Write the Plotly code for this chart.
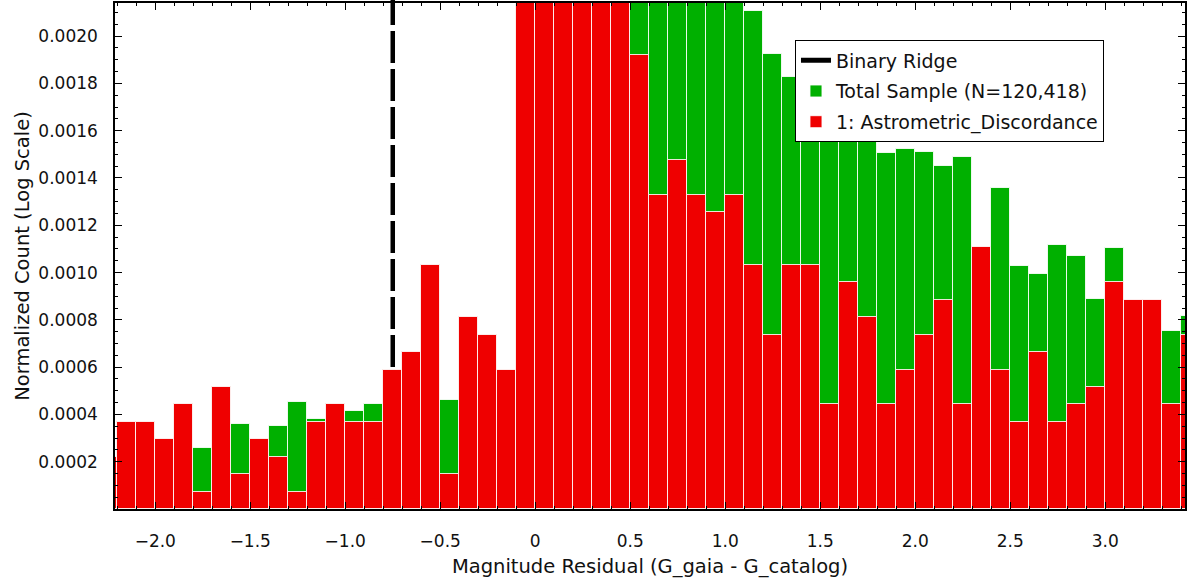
import plotly.graph_objects as go

# Histogram bins (left edges, width 0.1 mag)
BIN_LEFT = [
    -2.3, -2.2, -2.1, -2.0, -1.9, -1.8, -1.7, -1.6, -1.5, -1.4,
    -1.3, -1.2, -1.1, -1.0, -0.9, -0.8, -0.7, -0.6, -0.5, -0.4,
    -0.3, -0.2, -0.1, 0.0, 0.1, 0.2, 0.3, 0.4, 0.5, 0.6,
    0.7, 0.8, 0.9, 1.0, 1.1, 1.2, 1.3, 1.4, 1.5, 1.6,
    1.7, 1.8, 1.9, 2.0, 2.1, 2.2, 2.3, 2.4, 2.5, 2.6,
    2.7, 2.8, 2.9, 3.0, 3.1, 3.2, 3.3, 3.4,
]
BIN_WIDTH = 0.1

# Normalized counts per bin
TOTAL_SAMPLE = [
    0.000221, 0.000369, 0.000369, 0.000295, 0.000443, 0.000260, 0.000517, 0.000360, 0.000295, 0.000349,
    0.000452, 0.000381, 0.000443, 0.000416, 0.000442, 0.000590, 0.000664, 0.001033, 0.000463, 0.000812,
    0.000738, 0.000590, 0.002400, 0.003100, 0.003500, 0.003400, 0.003100, 0.002700, 0.002500, 0.002400,
    0.002300, 0.002250, 0.002200, 0.002170, 0.002105, 0.001923, 0.001829, 0.001760, 0.001700, 0.001660,
    0.001610, 0.001505, 0.001522, 0.001508, 0.001450, 0.001487, 0.001050, 0.001356, 0.001029, 0.000993,
    0.001116, 0.001071, 0.000889, 0.001102, 0.000850, 0.000820, 0.000753, 0.000816,
]
ASTROMETRIC = [
    0.000221, 0.000369, 0.000369, 0.000295, 0.000443, 0.000074, 0.000517, 0.000148, 0.000295, 0.000221,
    0.000074, 0.000369, 0.000443, 0.000369, 0.000369, 0.000590, 0.000664, 0.001033, 0.000148, 0.000812,
    0.000738, 0.000590, 0.003100, 0.004900, 0.006200, 0.005800, 0.004600, 0.003300, 0.001919, 0.001328,
    0.001476, 0.001328, 0.001255, 0.001328, 0.001033, 0.000738, 0.001033, 0.001033, 0.000443, 0.000959,
    0.000812, 0.000443, 0.000590, 0.000738, 0.000886, 0.000443, 0.001107, 0.000590, 0.000369, 0.000664,
    0.000369, 0.000443, 0.000517, 0.000959, 0.000886, 0.000886, 0.000443, 0.000738,
]

RIDGE_X = -0.75

X_TICKS = [-2.0, -1.5, -1.0, -0.5, 0.0, 0.5, 1.0, 1.5, 2.0, 2.5, 3.0]
X_TICK_TEXT = ["\u22122.0", "\u22121.5", "\u22121.0", "\u22120.5", "0", "0.5", "1.0", "1.5", "2.0", "2.5", "3.0"]
Y_TICKS = [0.0002, 0.0004, 0.0006, 0.0008, 0.0010, 0.0012, 0.0014, 0.0016, 0.0018, 0.0020]
Y_TICK_TEXT = ["0.0002", "0.0004", "0.0006", "0.0008", "0.0010", "0.0012", "0.0014", "0.0016", "0.0018", "0.0020"]

GREEN = "#00B000"
RED = "#EF0000"
FONT = "DejaVu Sans"
TEXT = "#111"
EDGE = dict(color="rgba(255,255,255,0.85)", width=1)

centers = [round(e + BIN_WIDTH / 2, 3) for e in BIN_LEFT]

fig = go.Figure()
fig.add_trace(go.Bar(
    x=centers, y=TOTAL_SAMPLE, width=BIN_WIDTH,
    name="Total Sample (N=120,418)",
    marker=dict(color=GREEN, line=EDGE),
    legendrank=2, legendgroup="b",
))
fig.add_trace(go.Bar(
    x=centers, y=ASTROMETRIC, width=BIN_WIDTH,
    name="1: Astrometric_Discordance",
    marker=dict(color=RED, line=EDGE),
    legendrank=3, legendgroup="c",
))
# legend entry for the ridge marker
fig.add_trace(go.Scatter(
    x=[None], y=[None], mode="lines",
    line=dict(color="black", width=5),
    name="Binary Ridge",
    legendrank=1, legendgroup="a",
))
# dashed ridge line, kept behind the bars
fig.add_shape(
    type="line", xref="x", yref="y domain",
    x0=RIDGE_X, x1=RIDGE_X, y0=1.02, y1=0,
    layer="below",
    line=dict(color="black", width=4.5, dash="32px,6px"),
)

axis_common = dict(
    showline=True, linecolor="black", linewidth=1.5, mirror="ticks",
    ticks="inside", ticklen=7, tickwidth=1, tickcolor="black",
    showgrid=False, zeroline=False,
    tickfont=dict(family=FONT, size=17, color=TEXT),
)

fig.update_layout(
    width=1193, height=585,
    margin=dict(l=115, r=8, t=1, b=76),
    plot_bgcolor="white", paper_bgcolor="white",
    barmode="overlay", bargap=0,
    font=dict(family=FONT, size=17, color=TEXT),
    xaxis=dict(
        range=[-2.212, 3.42],
        tickmode="array", tickvals=X_TICKS, ticktext=X_TICK_TEXT,
        minor=dict(tickmode="linear", tick0=0, dtick=0.1, ticks="inside",
                   ticklen=3.5, tickcolor="black", showgrid=False),
        ticklabelstandoff=16,
        title=dict(text="Magnitude Residual (G_gaia - G_catalog)",
                   font=dict(family=FONT, size=19.5, color=TEXT), standoff=9),
        **axis_common,
    ),
    yaxis=dict(
        range=[0, 0.00214],
        tickmode="array", tickvals=Y_TICKS, ticktext=Y_TICK_TEXT,
        minor=dict(tickmode="linear", tick0=0, dtick=0.00005, ticks="inside",
                   ticklen=3.5, tickcolor="black", showgrid=False),
        ticklabelstandoff=12,
        title=dict(text="Normalized Count (Log Scale)",
                   font=dict(family=FONT, size=19.5, color=TEXT), standoff=4),
        **axis_common,
    ),
    legend=dict(
        x=0.6355, y=0.926, xanchor="left", yanchor="top",
        bgcolor="white", bordercolor="black", borderwidth=1,
        font=dict(family=FONT, size=19, color=TEXT),
        traceorder="grouped", tracegroupgap=3,
    ),
    showlegend=True,
)

fig.write_html("out.html")
